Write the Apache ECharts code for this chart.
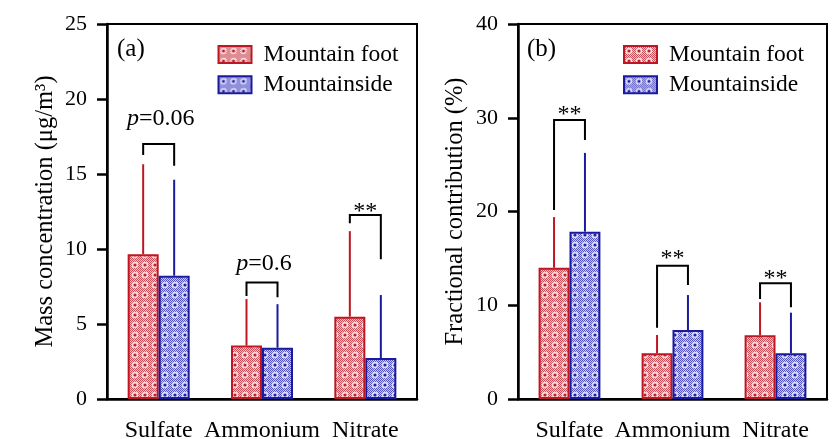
<!DOCTYPE html>
<html>
<head>
<meta charset="utf-8">
<script src="https://cdn.jsdelivr.net/npm/echarts@6/dist/echarts.min.js"></script>
<style>html,body{margin:0;padding:0;background:#fff}#c{width:840px;height:439px}</style>
</head>
<body>
<div id="c"></div>
<script>
// ---------- data ----------
const categories = ['Sulfate', 'Ammonium', 'Nitrate'];
const seriesNames = ['Mountain foot', 'Mountainside'];

// (a) mass concentration (µg/m3)
const massFoot = [9.65, 3.56, 5.49];
const massSide = [8.22, 3.42, 2.73];
const massFootSD = [6.0, 3.1, 5.7];
const massSideSD = [6.4, 2.9, 4.2];
// brackets: [top, left leg end, right leg end]
const massBrackets = [[17.0, 16.27, 15.55], [7.76, 6.87, 6.78], [12.27, 11.71, 9.31]];
const massLabels = ['p=0.06', 'p=0.6', '**'];
const massLabelY = [18.71, 9.02, 12.47];
const massAxisMax = 25, massAxisStep = 5;

// (b) fractional contribution (%)
const fracFoot = [14.0, 4.87, 6.79];
const fracSide = [17.85, 7.36, 4.87];
const fracFootSD = [5.4, 1.96, 3.52];
const fracSideSD = [8.4, 3.73, 4.34];
const fracBrackets = [[29.76, 20.16, 27.63], [14.22, 7.61, 12.16], [12.34, 10.67, 9.78]];
const fracLabels = ['**', '**', '**'];
const fracLabelY = [30.34, 14.98, 12.84];
const fracAxisMax = 40, fracAxisStep = 10;

// ---------- styles ----------
const FONT = "'Liberation Serif','Times New Roman',serif";
const RED = '#BE1622', BLUE = '#1A1A9C';

function makePattern(dark, light, dot, ring) {
  const s = 10;
  const cv = document.createElement('canvas');
  cv.width = s; cv.height = s;
  const g = cv.getContext('2d');
  for (let y = 0; y < s; y++) for (let x = 0; x < s; x++) {
    g.fillStyle = ((x + y) % 2 === 0) ? dark : light;
    g.fillRect(x, y, 1, 1);
  }
  g.fillStyle = ring;
  g.beginPath(); g.arc(5, 5, 3.2, 0, Math.PI * 2); g.fill();
  g.fillStyle = dot;
  g.beginPath(); g.arc(5, 5, 1.6, 0, Math.PI * 2); g.fill();
  return cv;
}
const redPat = { image: makePattern('#cc4d57', '#f0c9cc', '#c0202c', '#f6dcde'), repeat: 'repeat' };
const bluePat = { image: makePattern('#5252c4', '#cdcdf0', '#2020a8', '#dedef7'), repeat: 'repeat' };

function errData(vals, sds) { return vals.map((v, i) => [i, v, sds[i]]); }
function errRender(side, color) {
  return function (params, api) {
    const i = api.value(0);
    const band = api.size([1, 0])[0];
    const p0 = api.coord([i, api.value(1)]);
    const p1 = api.coord([i, api.value(1) + api.value(2)]);
    const x = p0[0] + side * band * 0.15;
    return { type: 'line', shape: { x1: x, y1: p0[1], x2: x, y2: p1[1] },
      style: { stroke: color, lineWidth: 2 } };
  };
}
function bracketData(br, ly) { return br.map((b, i) => [i, b[0], b[1], b[2], ly[i]]); }
function bracketRender(labels) {
  return function (params, api) {
    const i = api.value(0);
    const band = api.size([1, 0])[0];
    const top = api.coord([i, api.value(1)]);
    const yl = api.coord([i, api.value(2)])[1];
    const yr = api.coord([i, api.value(3)])[1];
    const ty = api.coord([i, api.value(4)])[1];
    const xl = top[0] - band * 0.15, xr = top[0] + band * 0.15;
    let txt = labels[i];
    const isP = txt.charAt(0) === 'p';
    if (isP) txt = '{i|p}' + txt.slice(1);
    return { type: 'group', children: [
      { type: 'polyline', shape: { points: [[xl, yl], [xl, top[1]], [xr, top[1]], [xr, yr]] },
        style: { stroke: '#000', lineWidth: 2, fill: null } },
      { type: 'text', x: top[0] + (isP ? 2 : 0), y: ty, style: { text: txt, align: 'center', verticalAlign: 'middle',
        fontFamily: FONT, fontSize: 24, fill: '#000',
        rich: { i: { fontStyle: 'italic', fontFamily: FONT, fontSize: 24 } } } }
    ] };
  };
}

const grids = [
  { left: 107, top: 24, width: 310, height: 375 },
  { left: 518, top: 24, width: 309, height: 375 }
];
function xAx(gi) {
  return { type: 'category', gridIndex: gi, data: categories,
    axisLine: { lineStyle: { color: '#000', width: 2.5 } },
    axisTick: { alignWithLabel: true, length: 11, lineStyle: { width: 2.5, color: '#000' } },
    axisLabel: { color: '#000', fontFamily: FONT, fontSize: 24, margin: 20, interval: 0, hideOverlap: false } };
}
function yAx(gi, max, step, name, gap) {
  return { type: 'value', gridIndex: gi, min: 0, max: max, interval: step,
    name: name, nameLocation: 'middle', nameGap: gap,
    nameTextStyle: { color: '#000', fontFamily: FONT, fontSize: 24.5 },
    splitLine: { show: false },
    axisLine: { show: true, lineStyle: { color: '#000', width: 2.5 } },
    axisTick: { show: true, length: 10, lineStyle: { width: 2.5, color: '#000' } },
    axisLabel: { color: '#000', fontFamily: FONT, fontSize: 22, margin: 20 } };
}
function bar(name, data, gi, pat, col) {
  return { type: 'bar', name: name, xAxisIndex: gi, yAxisIndex: gi, data: data,
    barWidth: '30%', barGap: '0%', z: 3,
    itemStyle: { color: pat, borderColor: col, borderWidth: 2 } };
}
function legend(left) {
  return { data: seriesNames, orient: 'vertical', left: left, top: 37.5,
    itemWidth: 33, itemHeight: 17, itemGap: 6.3, icon: 'rect',
    selectedMode: false,
    textStyle: { color: '#000', fontFamily: FONT, fontSize: 23.5, padding: [0, 0, 0, 7] } };
}

const option = {
  animation: false,
  backgroundColor: '#fff',
  grid: grids.map(g => Object.assign({ show: true, borderColor: '#000', borderWidth: 2,
    backgroundColor: 'transparent', outerBoundsMode: 'none', containLabel: false }, g)),
  xAxis: [xAx(0), xAx(1)],
  yAxis: [yAx(0, massAxisMax, massAxisStep, 'Mass concentration (μg/m³)', 49),
          yAx(1, fracAxisMax, fracAxisStep, 'Fractional contribution (%)', 50)],
  legend: [legend(212.5), legend(618)],
  graphic: [
    { type: 'text', left: 117, top: 37, style: { text: '(a)', fontFamily: FONT, fontSize: 25, fill: '#000' } },
    { type: 'text', left: 527, top: 37, style: { text: '(b)', fontFamily: FONT, fontSize: 25, fill: '#000' } }
  ],
  series: [
    bar(seriesNames[0], massFoot, 0, redPat, RED),
    bar(seriesNames[1], massSide, 0, bluePat, BLUE),
    bar(seriesNames[0], fracFoot, 1, redPat, RED),
    bar(seriesNames[1], fracSide, 1, bluePat, BLUE),
    { type: 'custom', name: 'errA1', xAxisIndex: 0, yAxisIndex: 0, data: errData(massFoot, massFootSD), renderItem: errRender(-1, RED), z: 2 },
    { type: 'custom', name: 'errA2', xAxisIndex: 0, yAxisIndex: 0, data: errData(massSide, massSideSD), renderItem: errRender(1, BLUE), z: 2 },
    { type: 'custom', name: 'errB1', xAxisIndex: 1, yAxisIndex: 1, data: errData(fracFoot, fracFootSD), renderItem: errRender(-1, RED), z: 2 },
    { type: 'custom', name: 'errB2', xAxisIndex: 1, yAxisIndex: 1, data: errData(fracSide, fracSideSD), renderItem: errRender(1, BLUE), z: 2 },
    { type: 'custom', name: 'brA', xAxisIndex: 0, yAxisIndex: 0, data: bracketData(massBrackets, massLabelY), renderItem: bracketRender(massLabels), z: 4 },
    { type: 'custom', name: 'brB', xAxisIndex: 1, yAxisIndex: 1, data: bracketData(fracBrackets, fracLabelY), renderItem: bracketRender(fracLabels), z: 4 }
  ]
};
const chart = echarts.init(document.getElementById('c'), null, { renderer: 'canvas' });
chart.setOption(option);
</script>
</body>
</html>
